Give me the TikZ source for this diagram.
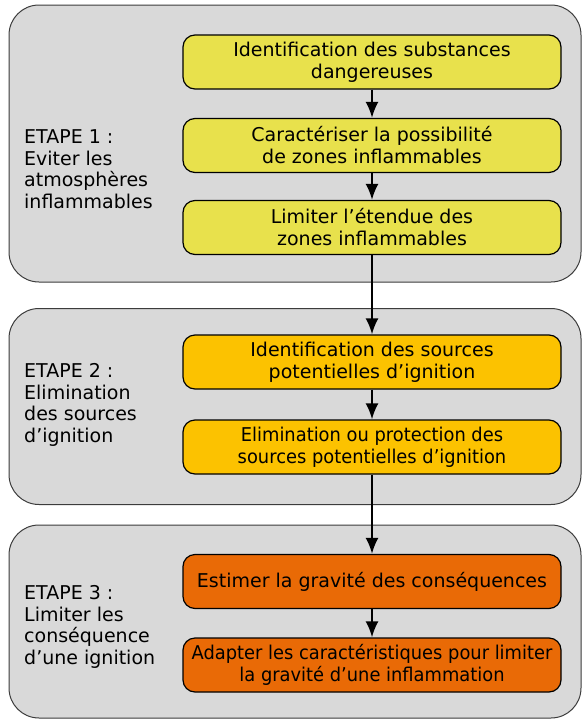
\documentclass[tikz,border=0pt]{standalone}
\usepackage{fontspec}
\setmainfont{DejaVu Sans}
\newfontfamily\condfont[FakeStretch=0.94]{DejaVu Sans}
\usetikzlibrary{arrows.meta}
\definecolor{panelgray}{HTML}{D9D9D9}
\definecolor{paneledge}{HTML}{3C3C3C}
\definecolor{yel}{HTML}{E8E14C}
\definecolor{amb}{HTML}{FCC200}
\definecolor{org}{HTML}{E96A06}
\tikzset{
  panel/.style={draw=paneledge, fill=panelgray, line width=1pt, rounded corners=30pt, inner sep=0pt},
  stepbox/.style={draw=black, line width=1.2pt, rounded corners=12pt, minimum width=378pt, minimum height=54pt, inner sep=0pt, align=center, font=\fontsize{19}{22}\selectfont},
  steplabel/.style={anchor=west, align=left, inner sep=0pt, font=\fontsize{19}{21.5}\selectfont},
  flow/.style={line width=2.2pt, -{Latex[length=16pt,width=13pt]}}
}
\begin{document}
\begin{tikzpicture}[x=1pt,y=-1pt]
\useasboundingbox (0,0) rectangle (582,720);
% panels
\node[panel, minimum width=572pt, minimum height=277pt] (p1) at (295,143.5) {};
\node[panel, minimum width=572pt, minimum height=196pt] (p2) at (295,406.5) {};
\node[panel, minimum width=572pt, minimum height=193pt] (p3) at (295,621.5) {};
% labels
\node[steplabel] (l1) at (24,169) {ETAPE 1 :\\Eviter les\\atmosphères\\inflammables};
\node[steplabel] (l2) at (24,405) {ETAPE 2 :\\Elimination\\des sources\\d’ignition};
\node[steplabel] (l3) at (24,627) {ETAPE 3 :\\Limiter les\\conséquence\\d’une ignition};
% boxes
\node[stepbox, fill=yel] (b1) at (372,62) {Identification des substances\\dangereuses};
\node[stepbox, fill=yel] (b2) at (372,145.5) {Caractériser la possibilité\\de zones inflammables};
\node[stepbox, fill=yel] (b3) at (372,227.5) {Limiter l’étendue des\\zones inflammables};
\node[stepbox, fill=amb] (b4) at (372,362) {Identification des sources\\potentielles d’ignition};
\node[stepbox, fill=amb] (b5) at (372,447) {\condfont Elimination ou protection des\\\condfont sources potentielles d’ignition};
\node[stepbox, fill=org] (b6) at (372,581.5) {Estimer la gravité des conséquences};
\node[stepbox, fill=org] (b7) at (372,665) {\condfont Adapter les caractéristiques pour limiter\\\condfont la gravité d’une inflammation};
% arrows
\draw[flow] (b1) -- (b2);
\draw[flow] (b2) -- (b3);
\draw[flow] (b3) -- (b4);
\draw[flow] (b4) -- (b5);
\draw[flow] (b5) -- (b6);
\draw[flow] (b6) -- (b7);
\end{tikzpicture}
\end{document}
